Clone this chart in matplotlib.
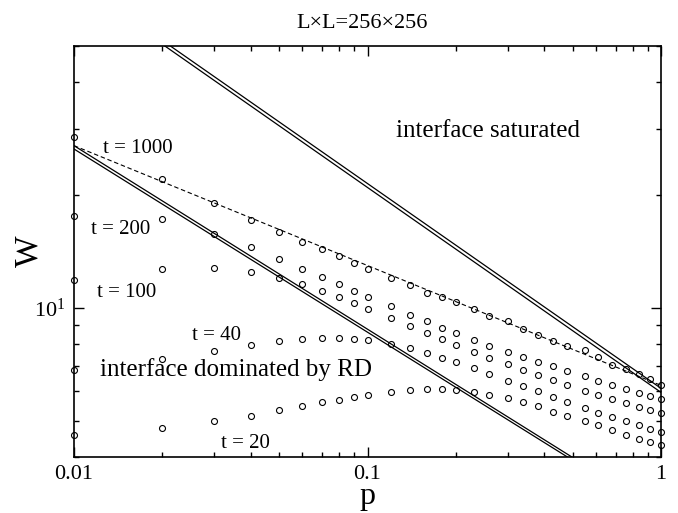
import matplotlib
matplotlib.use('Agg')
import matplotlib.pyplot as plt
from matplotlib.ticker import LogLocator, NullFormatter, FixedLocator, FixedFormatter

plt.rcParams['font.family'] = ['Liberation Serif', 'DejaVu Serif']
plt.rcParams['mathtext.fontset'] = 'custom'
plt.rcParams['mathtext.rm'] = 'Liberation Serif'

# probability p (shared by all series)
p = [0.01, 0.02, 0.03, 0.04, 0.05, 0.06, 0.07, 0.08, 0.09, 0.1,
     0.12, 0.14, 0.16, 0.18, 0.2,
     0.23, 0.26, 0.30, 0.34, 0.38, 0.43, 0.48, 0.55, 0.61, 0.68, 0.76, 0.84, 0.92, 1.0]

w_t1000 = [28.55, 22.04, 19.05, 17.19, 15.91, 14.98, 14.33, 13.75, 13.19, 12.71,
           12.03, 11.48, 10.99, 10.68, 10.36,
           9.92, 9.54, 9.21, 8.79, 8.49, 8.18, 7.93, 7.74, 7.40, 7.06, 6.87, 6.68, 6.47, 6.21]
w_t200 = [17.62, 17.23, 15.77, 14.53, 13.50, 12.71, 12.06, 11.55, 11.08, 10.68,
          10.09, 9.60, 9.21, 8.86, 8.57,
          8.21, 7.93, 7.64, 7.41, 7.19, 6.98, 6.79, 6.57, 6.38, 6.21, 6.09, 5.93, 5.81, 5.71]
w_t100 = [11.86, 12.71, 12.79, 12.48, 12.03, 11.55, 11.08, 10.66, 10.31, 9.94,
          9.39, 8.93, 8.56, 8.25, 7.98,
          7.64, 7.37, 7.08, 6.84, 6.64, 6.43, 6.22, 6.01, 5.87, 5.71, 5.57, 5.45, 5.33, 5.24]
w_t40 = [6.81, 7.31, 7.69, 7.98, 8.16, 8.26, 8.31, 8.31, 8.28, 8.23,
         8.03, 7.82, 7.58, 7.37, 7.17,
         6.91, 6.66, 6.39, 6.17, 5.99, 5.80, 5.61, 5.42, 5.25, 5.12, 4.98, 4.86, 4.76, 4.66]
w_t20 = [4.57, 4.79, 4.99, 5.16, 5.33, 5.46, 5.60, 5.69, 5.80, 5.85,
         5.96, 6.03, 6.06, 6.06, 6.05,
         5.96, 5.87, 5.74, 5.60, 5.47, 5.29, 5.16, 4.99, 4.86, 4.73, 4.59, 4.48, 4.38, 4.30]

# straight power-law guide lines, given by their end points (p, W)
sat_p = [[0.0213, 1.0], [0.0204, 1.0]]
sat_w = [[50.0, 6.10], [50.0, 5.95]]
rd_p = [[0.01, 0.497], [0.01, 0.480]]
rd_w = [[27.1, 4.0], [26.55, 4.0]]
fit_p = [0.01, 1.0]
fit_w = [27.1, 6.21]

fig = plt.figure(figsize=(6.78, 5.13), dpi=100)
ax = fig.add_axes([74 / 678, 56 / 513, 587 / 678, 411 / 513])

for ws in [w_t1000, w_t200, w_t100, w_t40, w_t20]:
    ax.plot(p, ws, linestyle='none', marker='o', ms=4.3, mfc='none', mec='black',
            mew=0.8, clip_on=False, zorder=3)

for xs, ys in zip(sat_p + rd_p, sat_w + rd_w):
    ax.plot(xs, ys, color='black', lw=0.9)
ax.plot(fit_p, fit_w, color='black', lw=0.8, linestyle=(0, (4, 2.5)))

ax.set_xscale('log')
ax.set_yscale('log')
ax.set_xlim(0.01, 1)
ax.set_ylim(4, 50)

ax.xaxis.set_major_locator(FixedLocator([0.01, 0.1, 1]))
ax.xaxis.set_major_formatter(FixedFormatter(['0.01', '0.1', '1']))
ax.xaxis.set_minor_locator(LogLocator(base=10, subs=range(2, 10)))
ax.xaxis.set_minor_formatter(NullFormatter())
ax.yaxis.set_major_locator(FixedLocator([10]))
ax.yaxis.set_major_formatter(FixedFormatter([r'$\mathregular{10^{1}}$']))
ax.yaxis.set_minor_locator(LogLocator(base=10, subs=range(2, 10)))
ax.yaxis.set_minor_formatter(NullFormatter())

ax.tick_params(which='both', direction='in', top=True, right=True, width=1)
ax.tick_params(which='major', length=7.5, labelsize=16, pad=6)
ax.tick_params(which='minor', length=3.8)
for s in ax.spines.values():
    s.set_linewidth(1.2)

ax.set_xlabel('p', fontsize=23, labelpad=-2)
ax.set_ylabel('W', fontsize=24)
ax.yaxis.set_label_coords(-0.05, 0.5)
fig.text(0.534, 1 - 28 / 513, 'L×L=256×256', fontsize=16, ha='center', va='baseline')

tr = ax.transAxes
ax.text(0.0499, 0.7397, 't = 1000', fontsize=15, transform=tr)
ax.text(0.0284, 0.5426, 't = 200', fontsize=15, transform=tr)
ax.text(0.0387, 0.3893, 't = 100', fontsize=15, transform=tr)
ax.text(0.2015, 0.2835, 't = 40', fontsize=15, transform=tr)
ax.text(0.2509, 0.0219, 't = 20', fontsize=15, transform=tr)
ax.text(0.0443, 0.1971, 'interface dominated by RD', fontsize=18, transform=tr)
ax.text(0.5494, 0.7798, 'interface saturated', fontsize=18, transform=tr)

fig.savefig('out.png', dpi=100)
